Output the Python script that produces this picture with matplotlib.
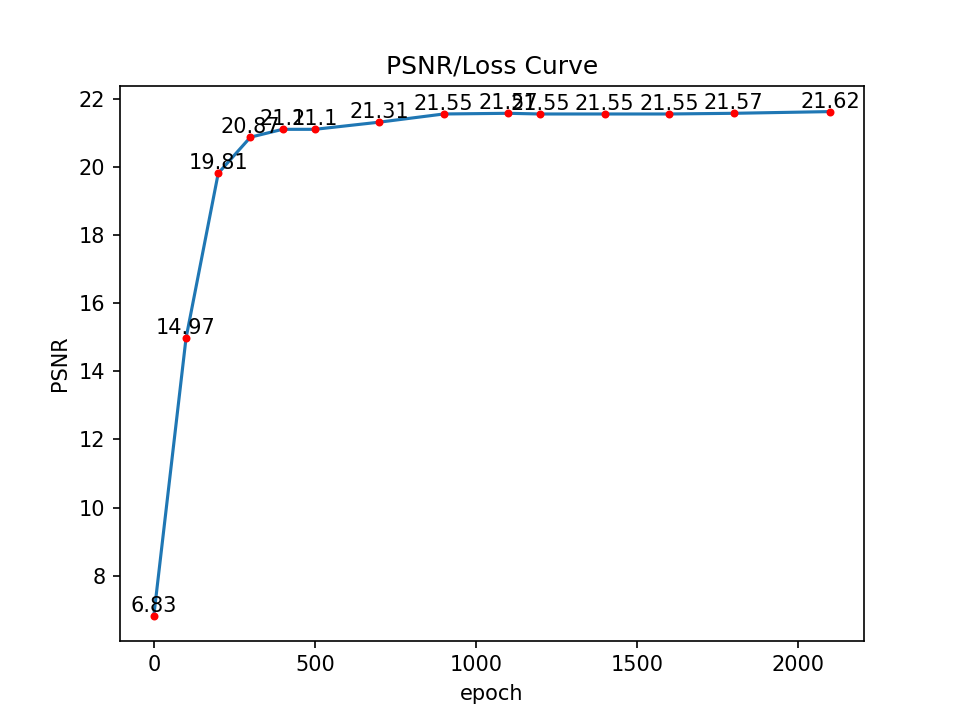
import matplotlib
matplotlib.use("Agg")
import matplotlib.pyplot as plt

epochs = [0, 100, 200, 300, 400, 500, 700, 900, 1100, 1200, 1400, 1600, 1800, 2100]
psnr = [6.83, 14.97, 19.81, 20.87, 21.1, 21.1, 21.31, 21.55, 21.57, 21.55, 21.55, 21.55, 21.57, 21.62]

fig, ax = plt.subplots(figsize=(6.4, 4.8), dpi=150)
ax.plot(epochs, psnr)
ax.scatter(epochs, psnr, color="red", s=8, zorder=3)
for x, y in zip(epochs, psnr):
    ax.text(x, y, f"{y}", ha="center", va="bottom")
ax.set_title("PSNR/Loss Curve")
ax.set_xlabel("epoch")
ax.set_ylabel("PSNR")
fig.savefig("out.png")
